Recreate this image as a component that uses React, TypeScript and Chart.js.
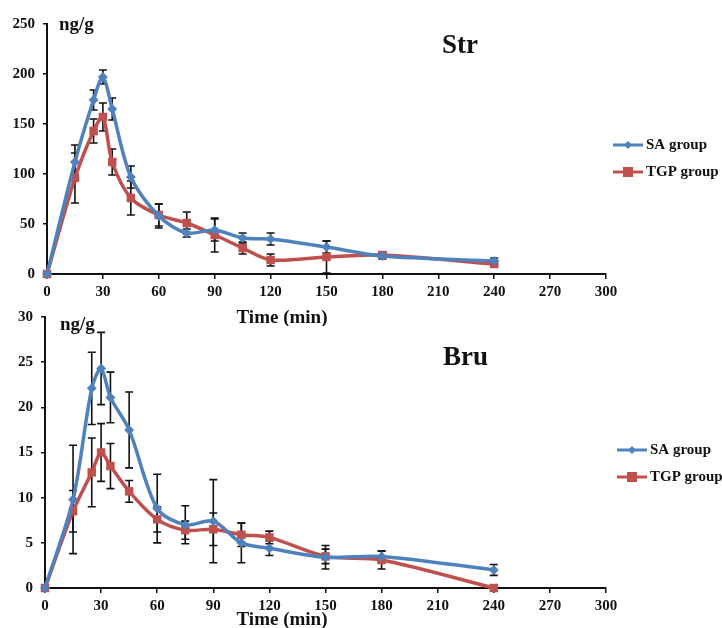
import React, { useEffect, useRef } from "react";
import { Chart, registerables } from "chart.js";

Chart.register(...registerables);

const TIMES = [0, 15, 25, 30, 35, 45, 60, 75, 90, 105, 120, 150, 180, 240];

const STR_SA = [0, 112, 174, 197, 165, 97, 58, 41, 44, 36, 35, 27, 18, 13];
const STR_SA_ERR = [0, 17, 10, 7, 11, 11, 12, 4, 11, 5, 6, 6, 3, 3];
const STR_TGP = [0, 96, 143, 157, 112, 76, 59, 51, 39, 26, 14, 17, 19, 10];
const STR_TGP_ERR = [0, 25, 12, 14, 13, 17, 11, 11, 17, 6, 6, 16, 3, 3];

const BRU_SA = [0, 9.8, 22.1, 24.3, 21.1, 17.5, 8.8, 7.0, 7.4, 5.0, 4.4, 3.4, 3.5, 2.0];
const BRU_SA_ERR = [0, 6, 4, 4, 2.8, 4.2, 3.8, 2.1, 4.6, 2.2, 0.8, 1.3, 0.6, 0.6];
const BRU_TGP = [0, 8.5, 12.8, 15.0, 13.5, 10.7, 7.6, 6.4, 6.5, 5.9, 5.6, 3.5, 3.1, 0];
const BRU_TGP_ERR = [0, 2.3, 3.8, 3.2, 2.5, 1.2, 1.4, 1.0, 1.8, 1.3, 0.7, 0.8, 1.0, 0];

const SERIES_NAMES = ["SA group", "TGP group"];
const UNIT_LABEL = "ng/g";
const X_TITLE = "Time (min)";

const BLUE = "#4F81BD";
const RED = "#C0504D";
const SERIF = "'Liberation Serif', 'Times New Roman', serif";

type Panel = {
  title: string;
  sa: number[];
  saErr: number[];
  tgp: number[];
  tgpErr: number[];
  yMax: number;
  yStep: number;
  top: number;
  height: number;
  padTop: number;
  xAxisH: number;
  yAxisW: number;
  titleX: number;
  titleY: number;
  unitX: number;
  unitY: number;
  xTitleY: number;
  legendX: number;
  legendY: number;
};

const PANELS: Panel[] = [
  {
    title: "Str",
    sa: STR_SA,
    saErr: STR_SA_ERR,
    tgp: STR_TGP,
    tgpErr: STR_TGP_ERR,
    yMax: 250,
    yStep: 50,
    top: 0,
    height: 326,
    padTop: 24,
    xAxisH: 52,
    yAxisW: 47,
    titleX: 442,
    titleY: 46,
    unitX: 59,
    unitY: 25,
    xTitleY: 318,
    legendX: 613,
    legendY: 145,
  },
  {
    title: "Bru",
    sa: BRU_SA,
    saErr: BRU_SA_ERR,
    tgp: BRU_TGP,
    tgpErr: BRU_TGP_ERR,
    yMax: 30,
    yStep: 5,
    top: 300,
    height: 328,
    padTop: 16,
    xAxisH: 40,
    yAxisW: 45,
    titleX: 443,
    titleY: 58,
    unitX: 60,
    unitY: 25,
    xTitleY: 320,
    legendX: 617,
    legendY: 150,
  },
];

const errorBarPlugin = {
  id: "errorBars",
  beforeDatasetsDraw(chart: any) {
    const ctx = chart.ctx;
    const ys = chart.scales.y;
    ctx.save();
    ctx.strokeStyle = "#111";
    ctx.lineWidth = 1.6;
    chart.data.datasets.forEach((ds: any, i: number) => {
      const meta = chart.getDatasetMeta(i);
      const errs: number[] = ds.errors || [];
      meta.data.forEach((pt: any, j: number) => {
        const e = errs[j];
        if (!e) return;
        const v = ds.data[j].y;
        const x = pt.x;
        const y1 = ys.getPixelForValue(v + e);
        const y2 = ys.getPixelForValue(Math.max(v - e, 0));
        ctx.beginPath();
        ctx.moveTo(x, y1);
        ctx.lineTo(x, y2);
        ctx.moveTo(x - 4, y1);
        ctx.lineTo(x + 4, y1);
        ctx.moveTo(x - 4, y2);
        ctx.lineTo(x + 4, y2);
        ctx.stroke();
      });
    });
    ctx.restore();
  },
};

function drawMarker(ctx: CanvasRenderingContext2D, kind: string, x: number, y: number, color: string) {
  ctx.fillStyle = color;
  ctx.beginPath();
  if (kind === "rect") {
    ctx.rect(x - 5, y - 5, 10, 10);
  } else {
    ctx.moveTo(x, y - 4);
    ctx.lineTo(x + 4, y);
    ctx.lineTo(x, y + 4);
    ctx.lineTo(x - 4, y);
    ctx.closePath();
  }
  ctx.fill();
}

function makeTextPlugin(p: Panel) {
  return {
    id: "texts",
    afterDraw(chart: any) {
      const ctx = chart.ctx as CanvasRenderingContext2D;
      ctx.save();
      ctx.fillStyle = "#111";
      ctx.textBaseline = "middle";
      ctx.font = `bold 19px ${SERIF}`;
      ctx.textAlign = "left";
      ctx.fillText(UNIT_LABEL, p.unitX, p.unitY);
      ctx.font = `bold 27px ${SERIF}`;
      ctx.fillText(p.title, p.titleX, p.titleY);
      ctx.font = `bold 19px ${SERIF}`;
      ctx.textAlign = "center";
      ctx.fillText(X_TITLE, 282, p.xTitleY);
      // legend
      ctx.textAlign = "left";
      ctx.font = `bold 15px ${SERIF}`;
      const items = [
        { name: SERIES_NAMES[0], color: BLUE, kind: "rectRot" },
        { name: SERIES_NAMES[1], color: RED, kind: "rect" },
      ];
      items.forEach((it, k) => {
        const y = p.legendY + k * 27;
        ctx.strokeStyle = it.color;
        ctx.lineWidth = 3;
        ctx.beginPath();
        ctx.moveTo(p.legendX, y);
        ctx.lineTo(p.legendX + 30, y);
        ctx.stroke();
        drawMarker(ctx, it.kind, p.legendX + 15, y, it.color);
        ctx.fillStyle = "#111";
        ctx.fillText(it.name, p.legendX + 33, y);
      });
      ctx.restore();
    },
  };
}

function PanelChart({ p }: { p: Panel }) {
  const ref = useRef<HTMLCanvasElement | null>(null);
  useEffect(() => {
    if (!ref.current) return;
    const tickFont = { family: SERIF, weight: "bold" as const, size: 15 };
    const chart = new Chart(ref.current, {
      type: "line",
      data: {
        datasets: [
          {
            label: SERIES_NAMES[0],
            data: TIMES.map((t, i) => ({ x: t, y: p.sa[i] })),
            errors: p.saErr,
            borderColor: BLUE,
            backgroundColor: BLUE,
            borderWidth: 3.5,
            pointStyle: "rectRot",
            pointRadius: 5,
            pointBorderWidth: 0,
            tension: 0.3,
            clip: false,
          } as any,
          {
            label: SERIES_NAMES[1],
            data: TIMES.map((t, i) => ({ x: t, y: p.tgp[i] })),
            errors: p.tgpErr,
            borderColor: RED,
            backgroundColor: RED,
            borderWidth: 3.5,
            pointStyle: "rect",
            pointRadius: 6,
            pointBorderWidth: 0,
            tension: 0.3,
            clip: false,
          } as any,
        ],
      },
      options: {
        animation: false,
        responsive: false,
        events: [],
        layout: { padding: { left: 0, right: 116, top: p.padTop, bottom: 0 } },
        plugins: { legend: { display: false }, tooltip: { enabled: false } },
        scales: {
          x: {
            type: "linear",
            min: 0,
            max: 300,
            afterFit: (s: any) => {
              s.height = p.xAxisH;
            },
            ticks: { stepSize: 30, color: "#111", font: tickFont, padding: 4, maxRotation: 0 },
            grid: { drawOnChartArea: false, drawTicks: true, tickLength: 5, color: "#111", lineWidth: 1.5 },
            border: { color: "#111", width: 2 },
          },
          y: {
            type: "linear",
            min: 0,
            max: p.yMax,
            afterFit: (s: any) => {
              s.width = p.yAxisW;
            },
            ticks: { stepSize: p.yStep, color: "#111", font: tickFont, padding: 8 },
            grid: { drawOnChartArea: false, drawTicks: true, tickLength: 4, color: "#111", lineWidth: 1.5 },
            border: { color: "#111", width: 2 },
          },
        },
      } as any,
      plugins: [errorBarPlugin, makeTextPlugin(p)],
    });
    return () => chart.destroy();
  }, [p]);
  return (
    <canvas
      ref={ref}
      width={722}
      height={p.height}
      style={{ position: "absolute", left: 0, top: p.top, width: 722, height: p.height, display: "block" }}
    />
  );
}

export default function App() {
  return (
    <div style={{ position: "absolute", left: 0, top: 0, width: 722, height: 628, background: "#fff" }}>
      {PANELS.map((p) => (
        <PanelChart key={p.title} p={p} />
      ))}
    </div>
  );
}
